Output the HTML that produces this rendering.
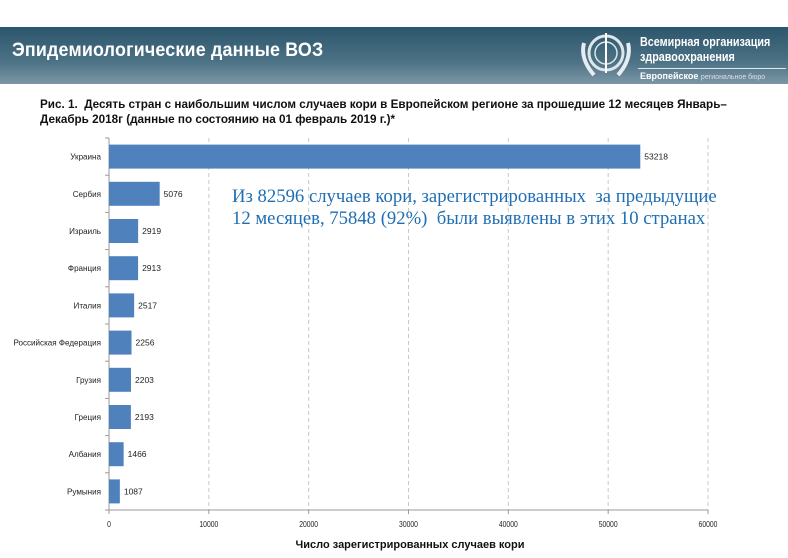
<!DOCTYPE html>
<html><head><meta charset="utf-8">
<style>
html,body{margin:0;padding:0;background:#fff;}
body{width:788px;height:558px;position:relative;overflow:hidden;font-family:"Liberation Sans","Noto Sans CJK SC",sans-serif;}
#hdr{position:absolute;left:0;top:27px;width:788px;height:57px;background:linear-gradient(#2c566c,#4b7184 60%,#7b97a6);}
#title{position:absolute;left:12px;top:40px;color:#fff;font-size:19px;font-weight:bold;letter-spacing:0.2px;transform:scaleX(0.94);transform-origin:left;white-space:nowrap;}
#cap{position:absolute;left:40px;top:97px;font-size:11.7px;font-weight:bold;line-height:15px;color:#111;width:820px;}
#note{position:absolute;left:232px;top:186px;font-family:"Liberation Serif",serif;font-size:18.7px;color:#1f6eb3;line-height:22px;white-space:nowrap;}
</style></head><body>
<div id="hdr">
 <svg style="position:absolute;left:578px;top:2px" width="56" height="52">
  <circle cx="28" cy="24" r="17" fill="none" stroke="#dde6ea" stroke-width="3"/>
  <circle cx="28" cy="24" r="11" fill="none" stroke="#dde6ea" stroke-width="1.5"/>
  <line x1="28" y1="4" x2="28" y2="44" stroke="#fff" stroke-width="2"/>
  <path d="M6 14 Q2 30 16 46 M50 14 Q54 30 40 46" fill="none" stroke="#e6ecef" stroke-width="4"/>
 </svg>
 <div style="position:absolute;left:640px;top:7px;color:#fff;font-size:13px;font-weight:bold;line-height:15px;transform:scaleX(0.83);transform-origin:left;white-space:nowrap">Всемирная организация<br>здравоохранения</div>
 <div style="position:absolute;left:638px;top:41px;width:148px;height:1px;background:#dfe7eb"></div>
 <div style="position:absolute;left:640px;top:44px;color:#fff;font-size:9px;white-space:nowrap"><b>Европейское</b> <span style="font-size:7px;color:#dde">региональное бюро</span></div>
</div>
<div id="title">Эпидемиологические данные ВОЗ</div>
<div id="cap">Рис. 1.&nbsp; Десять стран с наибольшим числом случаев кори в Европейском регионе за прошедшие 12 месяцев Январь–<br>Декабрь 2018г (данные по состоянию на 01 февраль 2019 г.)*</div>
<svg id="chart" width="788" height="558" style="position:absolute;left:0;top:0"></svg>
<div id="note">Из 82596 случаев кори, зарегистрированных&nbsp; за предыдущие<br>12 месяцев, 75848 (92%)&nbsp; были выявлены в этих 10 странах</div>
<script>
const categories=["Украина","Сербия","Израиль","Франция","Италия","Российская Федерация","Грузия","Греция","Албания","Румыния"];
const values=[53218,5076,2919,2913,2517,2256,2203,2193,1466,1087];
const ticks=[0,10000,20000,30000,40000,50000,60000];
const NS="http://www.w3.org/2000/svg";
const svg=document.getElementById('chart');
const x0=109,x1=708,yTop=138,yBot=510,xMax=60000;
const band=(yBot-yTop)/categories.length;
const sx=v=>x0+(x1-x0)*v/xMax;
function el(t,a,txt){const e=document.createElementNS(NS,t);for(const k in a)e.setAttribute(k,a[k]);if(txt!=null)e.textContent=txt;svg.appendChild(e);return e;}
ticks.forEach(t=>{
 if(t>0){const g=el('line',{x1:sx(t),x2:sx(t),y1:yTop,y2:yBot,stroke:'#c8c8c8','stroke-dasharray':'4,3'});
 
 }
 const tl=el('text',{x:sx(t),y:yBot+17,'font-size':8,'text-anchor':'middle',fill:'#222',transform:`translate(${sx(t)},0) scale(0.85,1) translate(${-sx(t)},0)`},String(t));
 
 
 el('line',{x1:sx(t),x2:sx(t),y1:yBot,y2:yBot+4,stroke:'#999'});
});
el('line',{x1:x0,x2:x0,y1:yTop,y2:yBot,stroke:'#999'});
el('line',{x1:x0,x2:x1,y1:yBot,y2:yBot,stroke:'#999'});
for(let i=0;i<=categories.length;i++)el('line',{x1:x0-4,x2:x0,y1:yTop+i*band,y2:yTop+i*band,stroke:'#999'});
categories.forEach((c,i)=>{
 const cy=yTop+band*(i+0.5),h=24;
 const b=el('rect',{x:x0,y:cy-h/2,width:sx(values[i])-x0,height:h,fill:'#4f81bd'});
 
 
 const l=el('text',{x:101,y:cy+3,'font-size':8.5,'text-anchor':'end',fill:'#222',transform:`translate(101,0) scale(0.95,1) translate(-101,0)`},c);
 
 
 const v=el('text',{x:sx(values[i])+4,y:cy+3,'font-size':8.5,fill:'#222'},String(values[i]));
 
 
});
const at=el('text',{x:410,y:548,'font-size':11,'font-weight':'bold','text-anchor':'middle',fill:'#111'},'Число зарегистрированных случаев кори');


</script>
</body></html>
